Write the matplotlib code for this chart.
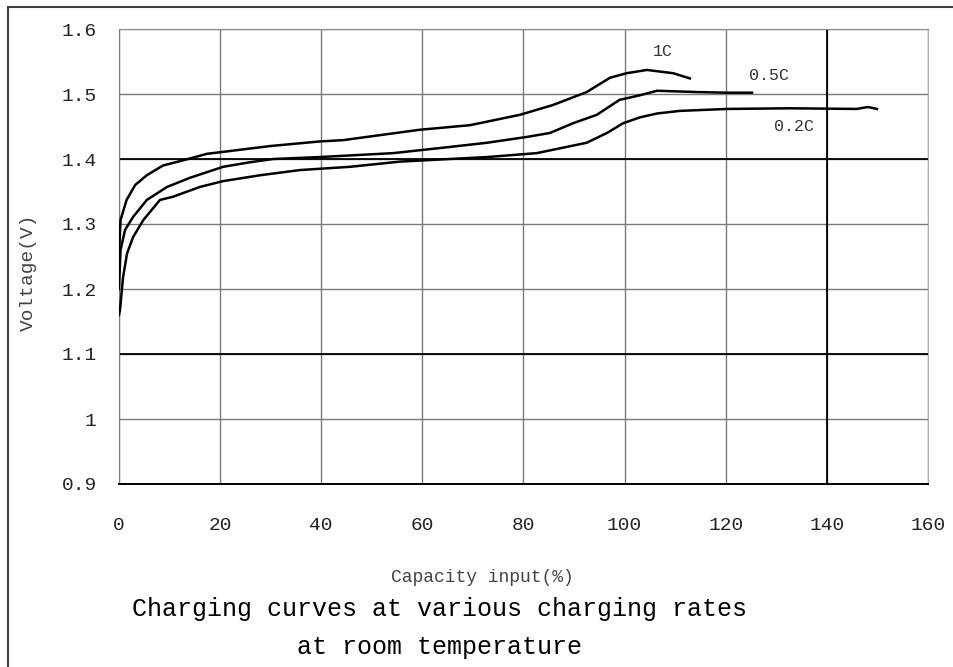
import matplotlib
matplotlib.use("Agg")
import matplotlib.pyplot as plt
from matplotlib.lines import Line2D

# data ---------------------------------------------------------------------
x_1c = [0, 0.1, 0.3, 1.5, 3.2, 5.5, 8.7, 12.7, 17.4, 20.6, 30, 39.7, 44.3, 59.5,
        69.4, 79.3, 85.8, 92.5, 97.1, 100.4, 104.4, 109.6, 112.9]
v_1c = [1.23, 1.27, 1.306, 1.337, 1.36, 1.375, 1.39, 1.398, 1.408, 1.411, 1.42, 1.427,
        1.429, 1.445, 1.452, 1.468, 1.483, 1.503, 1.525, 1.532, 1.537, 1.532, 1.524]

x_05c = [0, 0.3, 1.2, 2.8, 5.5, 9.5, 14, 20.6, 25.9, 30.5, 39.7, 54.2, 64.8, 72.8,
         80.7, 85.2, 89.8, 94.5, 99, 103, 106.4, 114.3, 120.2, 125.2]
v_05c = [1.2, 1.26, 1.291, 1.311, 1.337, 1.357, 1.371, 1.388, 1.395, 1.4, 1.403, 1.409,
         1.418, 1.425, 1.434, 1.44, 1.455, 1.468, 1.491, 1.498, 1.505, 1.503, 1.502, 1.502]

x_02c = [0, 0.2, 0.8, 1.6, 2.8, 4.8, 8.1, 10.7, 16, 20.6, 27.9, 35.8, 45.7, 55.6,
         72.8, 82.6, 92.5, 96.5, 99.7, 103, 106.4, 110.9, 120.2, 132.7, 145.9, 148.1, 149.9]
v_02c = [1.16, 1.168, 1.218, 1.255, 1.28, 1.306, 1.337, 1.342, 1.357, 1.366, 1.375, 1.383,
         1.388, 1.396, 1.403, 1.409, 1.425, 1.44, 1.455, 1.464, 1.47, 1.474, 1.477, 1.478,
         1.477, 1.48, 1.477]

x_ticks = [0, 20, 40, 60, 80, 100, 120, 140, 160]
y_ticks = [0.9, 1.0, 1.1, 1.2, 1.3, 1.4, 1.5, 1.6]
y_labels = ["0.9", "1", "1.1", "1.2", "1.3", "1.4", "1.5", "1.6"]

# figure ---------------------------------------------------------------------
plt.rcParams['font.family'] = ['Liberation Mono', 'DejaVu Sans Mono']

fig = plt.figure(figsize=(9.54, 6.67), dpi=100)
ax = fig.add_axes([119 / 954, 1 - 484 / 667, 809 / 954, 455 / 667])

ax.set_xlim(0, 160)
ax.set_ylim(0.9, 1.6)
ax.set_xticks(x_ticks)
ax.set_yticks(y_ticks)
ax.set_yticklabels(y_labels)
ax.tick_params(length=0, labelsize=14, colors='#222222')
ax.tick_params(axis='x', pad=24)
ax.tick_params(axis='y', pad=16)

# grid: mostly grey, a few black lines as in the scan
ax.grid(True, color='#7a7a7a', linewidth=1.0)
ax.set_axisbelow(True)
for yv in (1.4, 1.1):
    ax.axhline(yv, color='black', linewidth=1.3, zorder=1.5)
ax.axvline(140, color='black', linewidth=1.3, zorder=1.5)

ax.spines['left'].set_color('#7a7a7a')
ax.spines['top'].set_color('#8a8a8a')
ax.spines['right'].set_color('#b0b0b0')
ax.spines['bottom'].set_color('black')
ax.spines['bottom'].set_linewidth(1.4)

ax.plot(x_1c, v_1c, color='black', linewidth=1.8, zorder=3)
ax.plot(x_05c, v_05c, color='black', linewidth=1.8, zorder=3)
ax.plot(x_02c, v_02c, color='black', linewidth=1.8, zorder=3)

# curve labels
ax.text(107.5, 1.565, "1C", fontsize=12, ha='center', va='center', color='#333333')
ax.text(128.5, 1.529, "0.5C", fontsize=12, ha='center', va='center', color='#333333')
ax.text(133.5, 1.45, "0.2C", fontsize=12, ha='center', va='center', color='#333333')

# axis titles
fig.text(28 / 954, 1 - 272 / 667, "Voltage(V)", rotation=90, fontsize=14,
         ha='center', va='center', color='#444444')
fig.text(482 / 954, 1 - 578 / 667, "Capacity input(%)", fontsize=13,
         ha='center', va='center', color='#444444')
fig.text(440 / 954, 1 - 628 / 667,
         "Charging curves at various charging rates\nat room temperature",
         fontsize=18, ha='center', va='center', multialignment='center',
         linespacing=1.75, color='black')

# scan frame at top and left
fig.add_artist(Line2D([8 / 954, 1], [1 - 7 / 667, 1 - 7 / 667], color='#404040',
                      linewidth=1.5, transform=fig.transFigure))
fig.add_artist(Line2D([8 / 954, 8 / 954], [0, 1 - 7 / 667], color='#404040',
                      linewidth=1.5, transform=fig.transFigure))

fig.savefig("out.png", dpi=100)
